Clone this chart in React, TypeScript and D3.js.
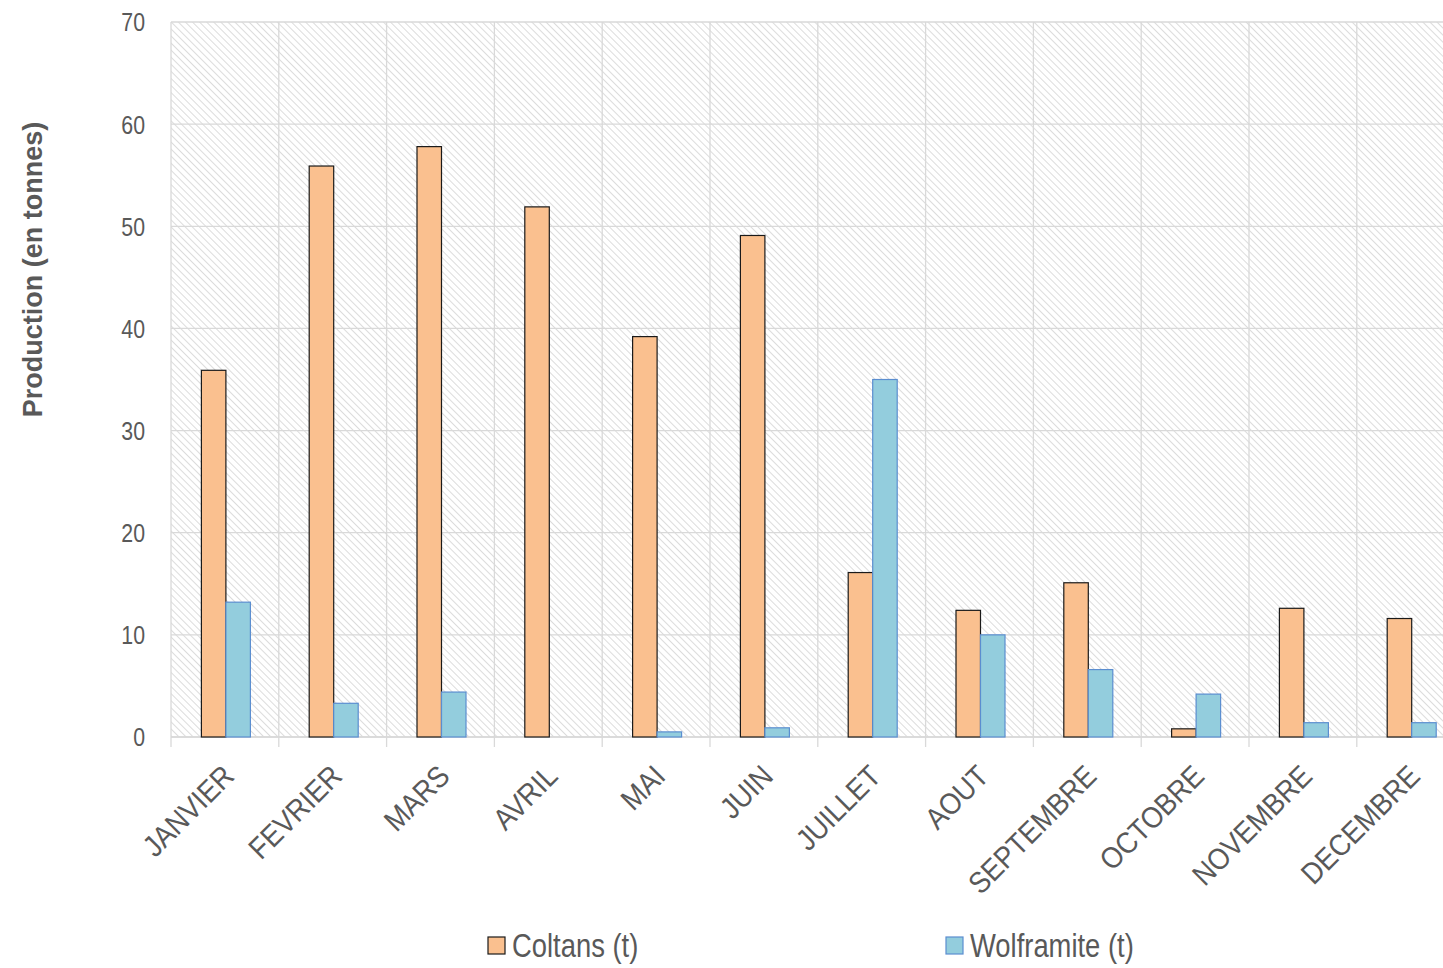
import React from "react";
import * as d3 from "d3";

const months = ["JANVIER","FEVRIER","MARS","AVRIL","MAI","JUIN","JUILLET","AOUT","SEPTEMBRE","OCTOBRE","NOVEMBRE","DECEMBRE"];
const coltans = [35.9, 55.9, 57.8, 51.9, 39.2, 49.1, 16.1, 12.4, 15.1, 0.8, 12.6, 11.6];
const wolframite = [13.2, 3.3, 4.4, 0, 0.5, 0.9, 35.0, 10.0, 6.6, 4.2, 1.4, 1.4];
const yTicks = [0, 10, 20, 30, 40, 50, 60, 70];
const seriesNames = ["Coltans (t)", "Wolframite (t)"];

const W = 1443, H = 968;
const left = 171, top = 22, bottom = 737;
const bandW = 107.8;
const right = left + bandW * months.length;

const FONT = "'Liberation Sans', Arial, sans-serif";

export default function App() {
  const x = d3.scaleBand<string>().domain(months).range([left, right]).paddingInner(0).paddingOuter(0);
  const y = d3.scaleLinear().domain([0, 70]).range([bottom, top]);
  const barW = 24.5;
  const cx = (m: string) => (x(m) as number) + x.bandwidth() / 2 + 1;

  return (
    <svg width={W} height={H} style={{ position: "absolute", left: 0, top: 0, overflow: "hidden", background: "#fff" }}>
      <defs>
        <pattern id="hatch" patternUnits="userSpaceOnUse" width="5" height="5" patternTransform="rotate(-45)">
          <rect width="5" height="5" fill="#ffffff" />
          <line x1="0" y1="0" x2="0" y2="5" stroke="#dcdcdc" strokeWidth="2" />
        </pattern>
        <clipPath id="vp"><rect x={0} y={0} width={W} height={H} /></clipPath>
      </defs>
      <g clipPath="url(#vp)">
        <rect x={left} y={top} width={right - left} height={bottom - top} fill="url(#hatch)" />
        {yTicks.map(t => (
          <line key={"h" + t} x1={left} x2={right} y1={y(t)} y2={y(t)} stroke="#d9d9d9" strokeWidth={1.3} />
        ))}
        {d3.range(months.length + 1).map(i => (
          <line key={"v" + i} x1={left + i * bandW} x2={left + i * bandW} y1={top} y2={bottom + 10} stroke="#d9d9d9" strokeWidth={1.3} />
        ))}
        <line x1={left} x2={right} y1={bottom} y2={bottom} stroke="#d9d9d9" strokeWidth={1.5} />
        {months.map((m, i) => (
          <g key={m}>
            <rect x={cx(m) - barW} y={y(coltans[i])} width={barW} height={bottom - y(coltans[i])} fill="#fac08f" stroke="#1a1a1a" strokeWidth={1.2} />
            {wolframite[i] > 0 && (
              <rect x={cx(m)} y={y(wolframite[i])} width={barW} height={bottom - y(wolframite[i])} fill="#93cddd" stroke="#5b8ed0" strokeWidth={1.2} />
            )}
          </g>
        ))}
        {yTicks.map(t => (
          <text key={"t" + t} transform={`translate(145,${y(t)}) scale(0.82,1)`} dy="0.36em" textAnchor="end" fontFamily={FONT} fontSize={26} fill="#595959">{t}</text>
        ))}
        {months.map(m => (
          <text key={"l" + m} transform={`translate(${cx(m) + 10},${bottom + 41}) rotate(-45) scale(0.9,1)`} textAnchor="end" fontFamily={FONT} fontSize={30} fill="#595959">{m}</text>
        ))}
        <text transform={`translate(42,${(top + bottom) / 2 - 110}) rotate(-90)`} textAnchor="middle" fontFamily={FONT} fontWeight="bold" fontSize={27} fill="#595959">Production (en tonnes)</text>
        {seriesNames.map((s, i) => {
          const lx = i === 0 ? 488 : 946;
          return (
            <g key={s}>
              <rect x={lx} y={937} width={17} height={17} fill={i === 0 ? "#fac08f" : "#93cddd"} stroke={i === 0 ? "#1a1a1a" : "#5b8ed0"} strokeWidth={1.2} />
              <text transform={`translate(${lx + 24},957) scale(0.83,1)`} fontFamily={FONT} fontSize={33} fill="#595959">{s}</text>
            </g>
          );
        })}
      </g>
    </svg>
  );
}
